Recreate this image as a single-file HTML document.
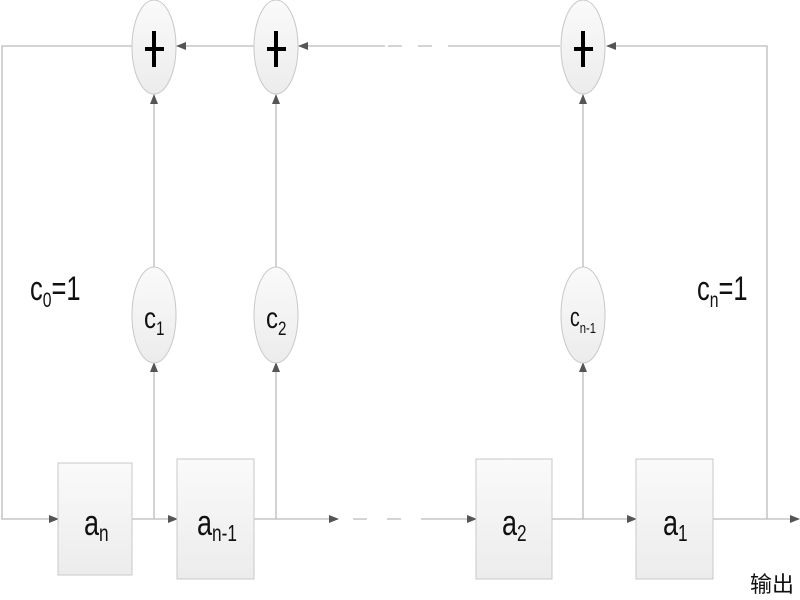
<!DOCTYPE html>
<html><head><meta charset="utf-8"><style>
html,body{margin:0;padding:0;background:#fff;}
svg{display:block;}
text{font-family:"Liberation Sans","Noto Sans CJK SC",sans-serif;fill:#111;}
</style></head><body>
<svg width="800" height="600" viewBox="0 0 800 600" xmlns="http://www.w3.org/2000/svg">
<defs>
<linearGradient id="g" x1="0" y1="0" x2="0" y2="1"><stop offset="0" stop-color="#fafafa"/><stop offset="1" stop-color="#ececec"/></linearGradient>
<marker id="a" markerWidth="10" markerHeight="10" refX="9" refY="5" orient="auto" markerUnits="userSpaceOnUse"><path d="M0,1 L10,5 L0,9 Z" fill="#555"/></marker>
</defs>
<g stroke="#bbb" stroke-width="1.3" fill="none">
<polyline points="132,46 2,46 2,519 24,519"/>
<line x1="254" y1="46" x2="177" y2="46" marker-end="url(#a)"/>
<line x1="385" y1="46" x2="299" y2="46" marker-end="url(#a)"/>
<line x1="388" y1="46" x2="460" y2="46" stroke-dasharray="14,16"/>
<line x1="460" y1="46" x2="560" y2="46"/>
<polyline points="767,519 767,46 607,46" marker-end="url(#a)"/>
<line x1="24" y1="519" x2="58" y2="519" marker-end="url(#a)"/>
<line x1="132" y1="519" x2="177" y2="519" marker-end="url(#a)"/>
<line x1="254" y1="519" x2="338" y2="519" marker-end="url(#a)"/>
<line x1="353" y1="519" x2="432" y2="519" stroke-dasharray="14,20"/>
<line x1="432" y1="519" x2="476" y2="519" marker-end="url(#a)"/>
<line x1="552" y1="519" x2="636" y2="519" marker-end="url(#a)"/>
<line x1="713" y1="519" x2="799" y2="519" marker-end="url(#a)"/>
<line x1="154" y1="519" x2="154" y2="363" marker-end="url(#a)"/>
<line x1="154" y1="267" x2="154" y2="95" marker-end="url(#a)"/>
<line x1="276" y1="519" x2="276" y2="363" marker-end="url(#a)"/>
<line x1="276" y1="267" x2="276" y2="95" marker-end="url(#a)"/>
<line x1="583" y1="519" x2="583" y2="363" marker-end="url(#a)"/>
<line x1="583" y1="267" x2="583" y2="95" marker-end="url(#a)"/>
</g>
<g fill="url(#g)" stroke="#c8c8c8" stroke-width="1">
<ellipse cx="154" cy="47" rx="22" ry="47"/>
<ellipse cx="276" cy="47" rx="22" ry="47"/>
<ellipse cx="583" cy="47" rx="22" ry="47"/>
<ellipse cx="154" cy="315" rx="22" ry="48"/>
<ellipse cx="276" cy="315" rx="22" ry="48"/>
<ellipse cx="583" cy="315" rx="22" ry="48"/>
<rect x="58" y="463" width="74" height="112"/>
<rect x="177" y="459" width="77" height="120"/>
<rect x="476" y="459" width="76" height="120"/>
<rect x="636" y="459" width="77" height="120"/>
</g>
<g stroke="#000" stroke-width="4" fill="none">
<path d="M145,49 H164 M154,31 V67"/>
<path d="M267,49 H286 M276,31 V67"/>
<path d="M574,49 H593 M583,31 V67"/>
</g>
<g transform="translate(144,0) scale(0.8,1)"><text x="0" y="328" font-size="30">c<tspan font-size="19" dy="7">1</tspan></text></g>
<g transform="translate(266,0) scale(0.8,1)"><text x="0" y="328" font-size="30">c<tspan font-size="19" dy="7">2</tspan></text></g>
<g transform="translate(570,0) scale(0.75,1)"><text x="0" y="326" font-size="26">c<tspan font-size="15" dy="7">n-1</tspan></text></g>
<g transform="translate(30,0) scale(0.75,1)"><text x="0" y="300" font-size="34">c<tspan font-size="21" dy="7">0</tspan><tspan dy="-7">=1</tspan></text></g>
<g transform="translate(697,0) scale(0.75,1)"><text x="0" y="300" font-size="34">c<tspan font-size="21" dy="7">n</tspan><tspan dy="-7">=1</tspan></text></g>
<g transform="translate(84,0) scale(0.75,1)"><text x="0" y="535" font-size="36">a<tspan font-size="23" dy="6">n</tspan></text></g>
<g transform="translate(197,0) scale(0.75,1)"><text x="0" y="535" font-size="36">a<tspan font-size="23" dy="6">n-1</tspan></text></g>
<g transform="translate(502,0) scale(0.75,1)"><text x="0" y="535" font-size="36">a<tspan font-size="23" dy="6">2</tspan></text></g>
<g transform="translate(663,0) scale(0.75,1)"><text x="0" y="535" font-size="36">a<tspan font-size="23" dy="6">1</tspan></text></g>
<text x="750" y="592" font-size="22" fill="#333">输出</text>
</svg>
</body></html>
